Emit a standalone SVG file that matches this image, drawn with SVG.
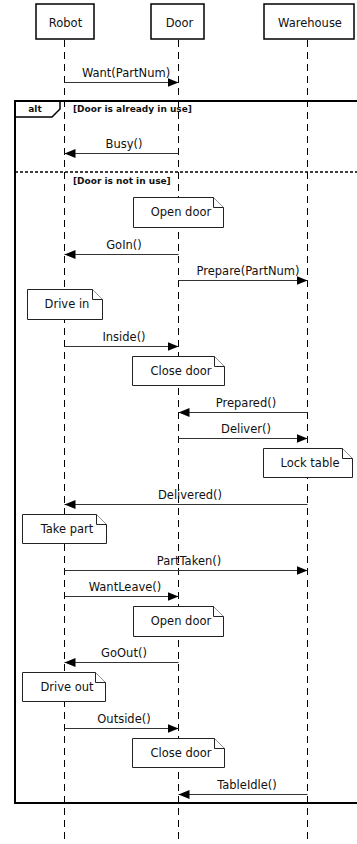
<svg xmlns="http://www.w3.org/2000/svg" width="357" height="844" viewBox="0 0 357 844">
  <style>
    text { font-family: "DejaVu Sans", Verdana, sans-serif; fill: #111; }
    .lbl { font-size: 11.5px; text-anchor: middle; }
    .guard { font-size: 9px; font-weight: bold; }
    .actor rect { fill: #fff; stroke: #000; stroke-width: 1.5; }
    .life { stroke: #000; stroke-width: 1; stroke-dasharray: 7 5; fill: none; }
    .msg { stroke: #333; stroke-width: 1; fill: none; marker-end: url(#head); }
    .note path { fill: #fff; stroke: #222; stroke-width: 1; }
    .frame { fill: none; stroke: #000; stroke-width: 2; }
    .sep { stroke: #000; stroke-width: 1.5; stroke-dasharray: 3 2; }
  </style>
  <defs>
    <marker id="head" markerUnits="userSpaceOnUse" markerWidth="12" markerHeight="10" refX="11" refY="4.5" orient="auto">
      <path d="M0,0 L11,4.5 L0,9 Z" fill="#000"/>
    </marker>
  </defs>

  <rect width="357" height="844" fill="#fff"/>

  <!-- lifelines -->
  <g id="lifelines">
    <line class="life" x1="64.5" y1="40" x2="64.5" y2="844"/>
    <line class="life" x1="178.5" y1="40" x2="178.5" y2="844"/>
    <line class="life" x1="307.5" y1="40" x2="307.5" y2="844"/>
  </g>

  <!-- participants -->
  <g id="robot" class="actor">
    <rect x="36" y="4" width="58" height="35"/>
    <text class="lbl" x="65.5" y="27">Robot</text>
  </g>
  <g id="door" class="actor">
    <rect x="151" y="4" width="53" height="35"/>
    <text class="lbl" x="179.5" y="27">Door</text>
  </g>
  <g id="warehouse" class="actor">
    <rect x="264" y="4" width="90" height="35"/>
    <text class="lbl" x="310" y="27">Warehouse</text>
  </g>

  <!-- alt combined fragment -->
  <g id="alt-frame">
    <rect class="frame" x="15" y="101" width="350" height="702"/>
    <path d="M15,117 H52 L60,109 V101" fill="none" stroke="#000" stroke-width="1.5"/>
    <text class="guard" x="35" y="112" text-anchor="middle">alt</text>
    <text class="guard" x="73" y="112">[Door is already in use]</text>
    <line class="sep" x1="15" y1="172" x2="357" y2="172"/>
    <text class="guard" x="73" y="184">[Door is not in use]</text>
  </g>

  <!-- messages -->
  <g id="connectors">
    <line class="msg" x1="64.5" y1="82.5" x2="178.5" y2="82.5"/>
    <text class="lbl" x="126" y="77">Want(PartNum)</text>

    <line class="msg" x1="178.5" y1="153.5" x2="64.5" y2="153.5"/>
    <text class="lbl" x="124" y="148">Busy()</text>

    <line class="msg" x1="178.5" y1="254.5" x2="64.5" y2="254.5"/>
    <text class="lbl" x="124" y="249">GoIn()</text>

    <line class="msg" x1="178.5" y1="280.5" x2="307.5" y2="280.5"/>
    <text class="lbl" x="248" y="275">Prepare(PartNum)</text>

    <line class="msg" x1="64.5" y1="346.5" x2="178.5" y2="346.5"/>
    <text class="lbl" x="124" y="341">Inside()</text>

    <line class="msg" x1="307.5" y1="412.5" x2="178.5" y2="412.5"/>
    <text class="lbl" x="246" y="407">Prepared()</text>

    <line class="msg" x1="178.5" y1="438.5" x2="307.5" y2="438.5"/>
    <text class="lbl" x="246" y="433">Deliver()</text>

    <line class="msg" x1="307.5" y1="504.5" x2="64.5" y2="504.5"/>
    <text class="lbl" x="190" y="499">Delivered()</text>

    <line class="msg" x1="64.5" y1="570.5" x2="307.5" y2="570.5"/>
    <text class="lbl" x="189" y="565">PartTaken()</text>

    <line class="msg" x1="64.5" y1="596.5" x2="178.5" y2="596.5"/>
    <text class="lbl" x="125" y="591">WantLeave()</text>

    <line class="msg" x1="178.5" y1="662.5" x2="64.5" y2="662.5"/>
    <text class="lbl" x="124" y="657">GoOut()</text>

    <line class="msg" x1="64.5" y1="728.5" x2="178.5" y2="728.5"/>
    <text class="lbl" x="124" y="723">Outside()</text>

    <line class="msg" x1="307.5" y1="794.5" x2="178.5" y2="794.5"/>
    <text class="lbl" x="247" y="789">TableIdle()</text>
  </g>

  <!-- notes -->
  <g id="note-open-door-1" class="note">
    <path d="M133.5,197.5 H213.5 L223.5,207.5 V227.5 H133.5 Z"/>
    <path d="M213.5,197.5 V207.5 H223.5"/>
    <text class="lbl" x="181" y="216">Open door</text>
  </g>
  <g id="note-drive-in" class="note">
    <path d="M27.5,289.5 H92.5 L102.5,299.5 V319.5 H27.5 Z"/>
    <path d="M92.5,289.5 V299.5 H102.5"/>
    <text class="lbl" x="67" y="308">Drive in</text>
  </g>
  <g id="note-close-door-1" class="note">
    <path d="M132.5,356.5 H214.5 L224.5,366.5 V385.5 H132.5 Z"/>
    <path d="M214.5,356.5 V366.5 H224.5"/>
    <text class="lbl" x="181" y="375">Close door</text>
  </g>
  <g id="note-lock-table" class="note">
    <path d="M263.5,448.5 H342.5 L352.5,458.5 V477.5 H263.5 Z"/>
    <path d="M342.5,448.5 V458.5 H352.5"/>
    <text class="lbl" x="310" y="467">Lock table</text>
  </g>
  <g id="note-take-part" class="note">
    <path d="M22.5,514.5 H96.5 L106.5,524.5 V543.5 H22.5 Z"/>
    <path d="M96.5,514.5 V524.5 H106.5"/>
    <text class="lbl" x="67" y="533">Take part</text>
  </g>
  <g id="note-open-door-2" class="note">
    <path d="M133.5,606.5 H213.5 L223.5,616.5 V636.5 H133.5 Z"/>
    <path d="M213.5,606.5 V616.5 H223.5"/>
    <text class="lbl" x="181" y="625">Open door</text>
  </g>
  <g id="note-drive-out" class="note">
    <path d="M22.5,672.5 H95.5 L105.5,682.5 V701.5 H22.5 Z"/>
    <path d="M95.5,672.5 V682.5 H105.5"/>
    <text class="lbl" x="67" y="691">Drive out</text>
  </g>
  <g id="note-close-door-2" class="note">
    <path d="M132.5,738.5 H214.5 L224.5,748.5 V767.5 H132.5 Z"/>
    <path d="M214.5,738.5 V748.5 H224.5"/>
    <text class="lbl" x="181" y="757">Close door</text>
  </g>
</svg>
